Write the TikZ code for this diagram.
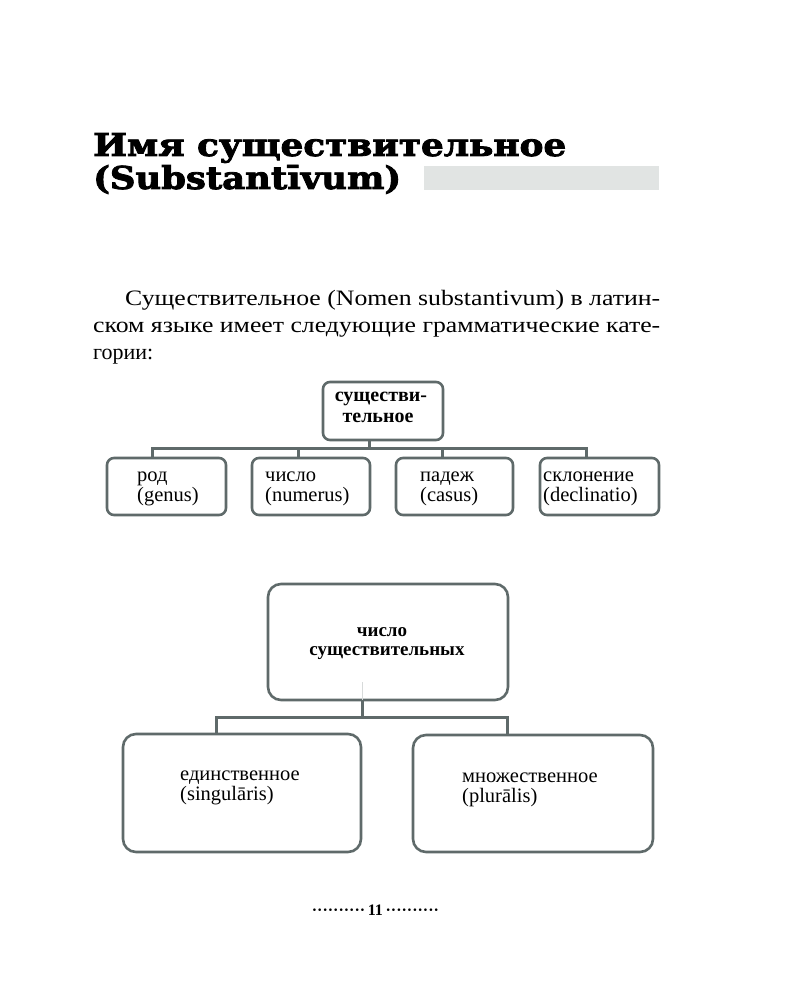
\documentclass[tikz,border=0pt]{standalone}
\usepackage{fontspec}
\usepackage{graphicx}
\setmainfont{Liberation Serif}
\newfontfamily\titlefont[BoldFeatures={FakeBold=2.5}]{DejaVu Serif}
\definecolor{ln}{HTML}{5F6A6A}
\definecolor{barc}{HTML}{E1E4E3}
\begin{document}
\begin{tikzpicture}[x=1pt,y=-1pt,
  box/.style={draw=ln,line width=2.6pt,rounded corners=7pt,inner sep=0pt,outer sep=0pt},
  bigbox/.style={box,rounded corners=13pt},
  conn/.style={draw=ln,line width=3pt},
  faint/.style={draw=ln!25,line width=1pt},
  lbl/.style={inner sep=0pt,anchor=base west,font=\fontsize{20.5}{22}\selectfont},
  blbl/.style={inner sep=0pt,anchor=base,font=\fontsize{20}{22}\selectfont\bfseries},
  bblbl/.style={inner sep=0pt,anchor=base,font=\fontsize{19}{22}\selectfont\bfseries},
  ttl/.style={inner sep=0pt,anchor=base west,font=\fontsize{31.5}{36}\titlefont\bfseries},
  para/.style={inner sep=0pt,anchor=base west,font=\fontsize{22}{27}\selectfont},
]
\useasboundingbox[fill=white] (0,0) rectangle (800,1000);

% title
\node[ttl] (title1) at (93,156) {\resizebox{473pt}{\height}{Имя существительное}};
\node[ttl] (title2) at (93,189) {\resizebox{308pt}{\height}{(Substantīvum)}};
\fill[barc] (424,166) rectangle (659,190);

% paragraph
\node[para] (p1) at (125,305) {\resizebox{535pt}{\height}{Существительное (Nomen substantivum) в латин-}};
\node[para] (p2) at (93,332) {\resizebox{567pt}{\height}{ском языке имеет следующие грамматические кате-}};
\node[para] (p3) at (93,359) {гории:};

% diagram 1
\node[box,minimum width=120pt,minimum height=58pt] (t1) at (383,411) {};
\node[box,minimum width=119pt,minimum height=57pt] (b1) at (166.5,486.5) {};
\node[box,minimum width=118pt,minimum height=57pt] (b2) at (311,486.5) {};
\node[box,minimum width=117pt,minimum height=57pt] (b3) at (454.5,486.5) {};
\node[box,minimum width=119pt,minimum height=57pt] (b4) at (599.5,486.5) {};

\node[blbl] (t1a) at (381,401) {существи-};
\node[blbl] (t1b) at (378,422) {тельное};
\node[lbl] (b1a) at (137,481.5) {род};
\node[lbl] (b1b) at (137,501) {(genus)};
\node[lbl] (b2a) at (265,481.5) {число};
\node[lbl] (b2b) at (265,501) {(numerus)};
\node[lbl] (b3a) at (420,481.5) {падеж};
\node[lbl] (b3b) at (420,501) {(casus)};
\node[lbl] (b4a) at (543,481.5) {склонение};
\node[lbl] (b4b) at (543,501) {(declinatio)};

\coordinate (h1) at (0,448);
\coordinate (c0) at ([xshift=-14pt]t1.south);
\coordinate (c1) at ([xshift=-14pt]b1.north);
\coordinate (c2) at ([xshift=-13pt]b2.north);
\coordinate (c3) at ([xshift=-12pt]b3.north);
\coordinate (c4) at ([xshift=-13pt]b4.north);
\draw[conn] (c0) -- (c0 |- h1);
\draw[conn] (c1) |- (c4 |- h1) -- (c4);
\draw[conn] (c2) -- (c2 |- h1);
\draw[conn] (c3) -- (c3 |- h1);

% diagram 2
\node[bigbox,minimum width=240pt,minimum height=116pt] (T2) at (388,642) {};
\node[bigbox,minimum width=238pt,minimum height=118pt] (L2) at (242,793) {};
\node[bigbox,minimum width=240pt,minimum height=117pt] (R2) at (533,793.5) {};

\node[bblbl] (T2a) at (382,636.5) {число};
\node[bblbl] (T2b) at (387,655.5) {существительных};
\node[lbl] (L2a) at (180,780.5) {единственное};
\node[lbl] (L2b) at (180,800) {(singulāris)};
\node[lbl] (R2a) at (462,782.5) {множественное};
\node[lbl] (R2b) at (462,802) {(plurālis)};

\coordinate (h2) at (0,717);
\coordinate (d0) at ([xshift=-26pt]T2.south);
\coordinate (d1) at ([xshift=-26pt]L2.north);
\coordinate (d2) at ([xshift=-26pt]R2.north);
\draw[faint] ([yshift=18pt]d0) -- (d0);
\draw[conn] (d0) -- (d0 |- h2);
\draw[conn] (d1) |- (d2 |- h2) -- (d2);

% page number
\node[inner sep=0pt,anchor=base,font=\fontsize{16}{18}\selectfont\bfseries] (pg) at (375.5,915) {··········\,11\,··········};
\end{tikzpicture}
\end{document}
